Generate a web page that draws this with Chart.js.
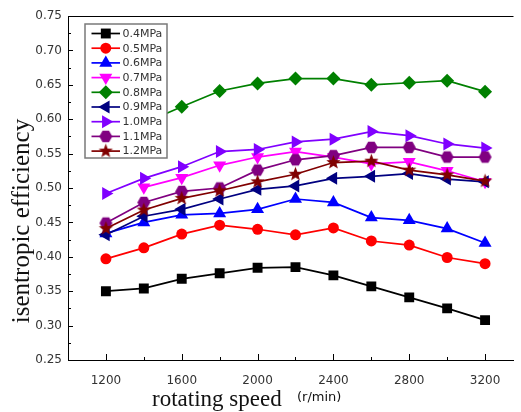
<!DOCTYPE html>
<html lang="en">
<head>
<meta charset="UTF-8">
<title>Isentropic efficiency vs rotating speed</title>
<script src="https://cdn.jsdelivr.net/npm/chart.js@4.4.1/dist/chart.umd.min.js"></script>
<style>
  html, body { margin: 0; padding: 0; background: #fff; }
  #effChart { display: block; }
</style>
</head>
<body>
<canvas id="effChart" width="521" height="412"></canvas>
<script>
// rotating speed (r/min)
const speeds = [1200, 1400, 1600, 1800, 2000, 2200, 2400, 2600, 2800, 3000, 3200];

// isentropic efficiency per inlet pressure
const p04 = [0.350, 0.354, 0.368, 0.376, 0.384, 0.385, 0.373, 0.357, 0.341, 0.325, 0.308];
const p05 = [0.397, 0.413, 0.433, 0.446, 0.440, 0.432, 0.442, 0.423, 0.417, 0.399, 0.390];
const p06 = [0.434, 0.450, 0.461, 0.463, 0.469, 0.484, 0.479, 0.457, 0.453, 0.441, 0.420];
const p07 = [null, 0.501, 0.515, 0.533, 0.545, 0.553, 0.545, 0.535, 0.538, 0.525, 0.509];
const p08 = [0.570, 0.594, 0.618, 0.641, 0.652, 0.659, 0.659, 0.650, 0.653, 0.656, 0.640];
const p09 = [0.432, 0.459, 0.469, 0.484, 0.498, 0.503, 0.514, 0.517, 0.521, 0.513, 0.509];
const p10 = [0.492, 0.514, 0.531, 0.553, 0.556, 0.567, 0.571, 0.582, 0.576, 0.564, 0.558];
const p11 = [0.449, 0.479, 0.495, 0.500, 0.526, 0.541, 0.547, 0.559, 0.559, 0.545, 0.545];
const p12 = [0.441, 0.468, 0.485, 0.496, 0.509, 0.520, 0.537, 0.539, 0.526, 0.519, 0.510];

const seriesNames = ["0.4MPa", "0.5MPa", "0.6MPa", "0.7MPa", "0.8MPa", "0.9MPa", "1.0MPa", "1.1MPa", "1.2MPa"];
const seriesValues = [p04, p05, p06, p07, p08, p09, p10, p11, p12];

const xTickLabels = [1200, 1600, 2000, 2400, 2800, 3200];
const yTickLabels = ["0.25", "0.30", "0.35", "0.40", "0.45", "0.50", "0.55", "0.60", "0.65", "0.70", "0.75"];

// small canvas markers for shapes chart.js doesn't fill
function starMarker(color, r) {
  const c = document.createElement("canvas");
  const s = Math.ceil(r * 2 + 2);
  c.width = s; c.height = s;
  const g = c.getContext("2d");
  g.beginPath();
  for (let i = 0; i < 10; i++) {
    const rr = i % 2 === 0 ? r : r * 0.42;
    const a = -Math.PI / 2 + i * Math.PI / 5;
    g.lineTo(s / 2 + rr * Math.cos(a), s / 2 + rr * Math.sin(a));
  }
  g.closePath();
  g.fillStyle = color;
  g.fill();
  return c;
}

function hexMarker(color, r) {
  const c = document.createElement("canvas");
  const s = Math.ceil(r * 2 + 2);
  c.width = s; c.height = s;
  const g = c.getContext("2d");
  g.beginPath();
  for (let i = 0; i < 6; i++) {
    const a = i * Math.PI / 3;
    g.lineTo(s / 2 + r * Math.cos(a), s / 2 + r * Math.sin(a));
  }
  g.closePath();
  g.fillStyle = color;
  g.fill();
  return c;
}

const colors = ["#000000", "#ff0000", "#0000ff", "#ff00ff", "#008000", "#000080", "#8000ff", "#800080", "#800000"];
const markers = [
  { style: "rect", rot: 0, r: 7 },
  { style: "circle", rot: 0, r: 5.5 },
  { style: "triangle", rot: 0, r: 7.5 },
  { style: "triangle", rot: 180, r: 7.5 },
  { style: "rectRot", rot: 0, r: 7 },
  { style: "triangle", rot: -90, r: 7.5 },
  { style: "triangle", rot: 90, r: 7.5 },
  { style: hexMarker("#800080", 6.5), rot: 0, r: 6.5 },
  { style: starMarker("#800000", 7.5), rot: 0, r: 7.5 }
];

const datasets = seriesNames.map((name, i) => ({
  label: name,
  data: speeds.map((s, k) => ({ x: s, y: seriesValues[i][k] })),
  borderColor: colors[i],
  backgroundColor: colors[i],
  borderWidth: 1.7,
  pointStyle: markers[i].style,
  pointRotation: markers[i].rot,
  pointRadius: markers[i].r,
  pointBorderWidth: 0,
  pointBackgroundColor: colors[i],
  tension: 0,
  order: seriesNames.length - i
}));

const decorPlugin = {
  id: "decor",
  afterDatasetsDraw(chart) {
    const ctx = chart.ctx;
    const xs = chart.scales.x, ys = chart.scales.y;
    const area = chart.chartArea;
    ctx.save();
    ctx.strokeStyle = "#000";
    ctx.lineWidth = 1;

    // top frame line
    ctx.beginPath();
    ctx.moveTo(area.left, area.top + 0.5);
    ctx.lineTo(area.right, area.top + 0.5);
    ctx.stroke();

    // inward ticks
    ctx.beginPath();
    for (let v = 1200; v <= 3200; v += 200) {
      const px = Math.round(xs.getPixelForValue(v)) + 0.5;
      const len = v % 400 === 0 ? 6 : 3;
      ctx.moveTo(px, area.bottom);
      ctx.lineTo(px, area.bottom - len);
    }
    for (let k = 1; k < 20; k++) {
      const v = 0.25 + k * 0.025;
      const py = Math.round(ys.getPixelForValue(v)) + 0.5;
      const len = k % 2 === 0 ? 5 : 3;
      ctx.moveTo(area.left, py);
      ctx.lineTo(area.left + len, py);
    }
    ctx.stroke();

    // legend box
    const lx = 85, ly = 24, lw = 82, lh = 134;
    ctx.fillStyle = "#fff";
    ctx.fillRect(lx, ly, lw, lh);
    ctx.strokeStyle = "#7a7a7a";
    ctx.lineWidth = 1.5;
    ctx.strokeRect(lx, ly, lw, lh);
    ctx.font = '11px "DejaVu Sans"';
    ctx.textBaseline = "middle";
    ctx.textAlign = "left";
    chart.data.datasets.forEach((ds, i) => {
      const y = 33.5 + i * 14.7;
      ctx.strokeStyle = ds.borderColor;
      ctx.lineWidth = 1.7;
      ctx.beginPath();
      ctx.moveTo(91.5, y);
      ctx.lineTo(120, y);
      ctx.stroke();
      ctx.fillStyle = ds.borderColor;
      if (Chart.helpers && Chart.helpers.drawPoint) {
        Chart.helpers.drawPoint(ctx, {
          pointStyle: ds.pointStyle,
          rotation: ds.pointRotation,
          radius: ds.pointRadius,
          borderWidth: 0
        }, 105.8, y);
      }
      ctx.fillStyle = "#333";
      ctx.fillText(ds.label, 122.5, y + 0.5);
    });

    // axis titles
    ctx.fillStyle = "#111";
    ctx.save();
    ctx.translate(22, 221);
    ctx.rotate(-Math.PI / 2);
    ctx.font = '25px "Liberation Serif"';
    ctx.textAlign = "center";
    ctx.fillText("isentropic efficiency", 0, 0);
    ctx.restore();

    ctx.textAlign = "left";
    ctx.font = '23px "Liberation Serif"';
    ctx.fillText("rotating speed", 152, 400);
    ctx.font = '13px "DejaVu Sans"';
    ctx.fillText("(r/min)", 297, 398);
    ctx.restore();
  }
};

new Chart(document.getElementById("effChart"), {
  type: "line",
  data: { datasets: datasets },
  options: {
    responsive: false,
    animation: false,
    devicePixelRatio: 1,
    layout: { padding: { top: 16, right: 0, left: 0, bottom: 0 } },
    plugins: {
      legend: { display: false },
      tooltip: { enabled: false }
    },
    scales: {
      x: {
        type: "linear",
        min: 1000,
        max: 3350,
        grid: { display: false, drawTicks: false },
        border: { display: true, color: "#000", width: 1 },
        ticks: {
          stepSize: 200,
          includeBounds: false,
          autoSkip: false,
          maxRotation: 0,
          padding: 14,
          color: "#333",
          font: { family: "DejaVu Sans", size: 12 },
          callback: v => xTickLabels.includes(v) ? String(v) : ""
        },
        afterFit: s => { s.height = 52; }
      },
      y: {
        min: 0.25,
        max: 0.75,
        grid: { display: false, drawTicks: false },
        border: { display: true, color: "#000", width: 1 },
        ticks: {
          stepSize: 0.05,
          padding: 6,
          color: "#333",
          font: { family: "DejaVu Sans", size: 12 },
          callback: v => {
            const t = v.toFixed(2);
            return yTickLabels.includes(t) ? t : "";
          }
        },
        afterFit: s => { s.width = 68; }
      }
    }
  },
  plugins: [decorPlugin]
});
</script>
</body>
</html>
